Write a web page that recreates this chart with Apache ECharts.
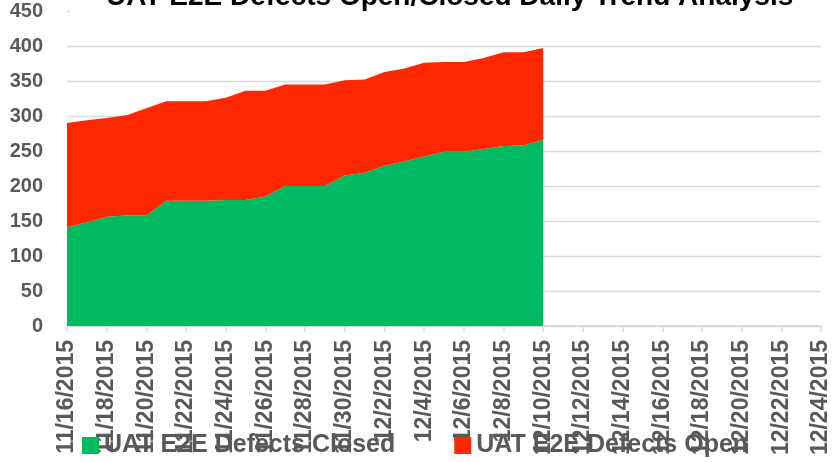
<!DOCTYPE html>
<html>
<head>
<meta charset="utf-8">
<title>UAT E2E Defects Open/Closed Daily Trend Analysis</title>
<script src="https://cdn.jsdelivr.net/npm/echarts@6/dist/echarts.min.js"></script>
<style>
    html, body {margin: 0; padding: 0; background: #fff;}
    #container {width: 835px; height: 462px;}
</style>
</head>
<body>
<div id="container"></div>
<script>
// x轴日期
var dates = ['11/16/2015', '11/17/2015', '11/18/2015', '11/19/2015', '11/20/2015', '11/21/2015',
    '11/22/2015', '11/23/2015', '11/24/2015', '11/25/2015', '11/26/2015', '11/27/2015',
    '11/28/2015', '11/29/2015', '11/30/2015', '12/1/2015', '12/2/2015', '12/3/2015',
    '12/4/2015', '12/5/2015', '12/6/2015', '12/7/2015', '12/8/2015', '12/9/2015',
    '12/10/2015', '12/11/2015', '12/12/2015', '12/13/2015', '12/14/2015', '12/15/2015',
    '12/16/2015', '12/17/2015', '12/18/2015', '12/19/2015', '12/20/2015', '12/21/2015',
    '12/22/2015', '12/23/2015', '12/24/2015'];

// 已关闭
var closedData = [141, 148, 156, 158, 158, 179, 179, 179, 180, 180, 185, 200, 200,
    200, 215, 219, 229, 235, 242, 249, 249, 253, 257, 258, 266];

// 未关闭
var openData = [149, 146, 141, 143, 153, 142, 142, 142, 146, 156, 151, 145, 145,
    145, 136, 133, 134, 133, 134, 128, 128, 130, 134, 133, 131];

var seriesNames = ['UAT E2E Defects Closed', 'UAT E2E Defects Open'];

var font = 'Liberation Sans';
var gray = '#595959';

var dom = document.getElementById("container");
var myChart = echarts.init(dom);

var option;

option = {
    animation: false,
    title: {
        text: 'UAT E2E Defects Open/Closed Daily Trend Analysis',
        left: 70,
        top: -17,
        padding: [0, 40, 2, 36],
        backgroundColor: '#fff',
        textStyle: {
            fontFamily: font,
            fontSize: 28,
            fontWeight: 'bold',
            color: '#000',
            lineHeight: 28
        }
    },
    legend: {
        left: 82,
        top: 433,
        padding: 0,
        itemWidth: 17,
        itemHeight: 17,
        itemGap: 59,
        icon: 'rect',
        data: seriesNames,
        textStyle: {
            fontFamily: font,
            fontSize: 25,
            fontWeight: 'bold',
            color: gray
        }
    },
    grid: {
        left: 67,
        right: 14,
        top: 11,
        bottom: 136,
        containLabel: false
    },
    xAxis: {
        type: 'category',
        boundaryGap: false,
        data: dates,
        axisLine: {
            lineStyle: {color: '#d9d9d9', width: 1.5}
        },
        axisTick: {
            interval: 1,
            length: 6,
            lineStyle: {color: '#d9d9d9', width: 1.5}
        },
        axisLabel: {
            interval: 1,
            rotate: 90,
            margin: 14,
            fontFamily: font,
            fontSize: 23,
            fontWeight: 'bold',
            color: gray
        }
    },
    yAxis: {
        type: 'value',
        min: 0,
        max: 450,
        interval: 50,
        axisLine: {show: false},
        axisTick: {show: false},
        splitLine: {
            lineStyle: {color: '#d9d9d9', width: 1.3}
        },
        axisLabel: {
            margin: 24,
            fontFamily: font,
            fontSize: 20,
            fontWeight: 'bold',
            color: gray
        }
    },
    series: [
        {
            name: seriesNames[0],
            type: 'line',
            stack: 'total',
            data: closedData,
            symbol: 'none',
            lineStyle: {width: 0},
            itemStyle: {color: '#00B960'},
            areaStyle: {color: '#00B960', opacity: 1}
        },
        {
            name: seriesNames[1],
            type: 'line',
            stack: 'total',
            data: openData,
            symbol: 'none',
            lineStyle: {width: 0},
            itemStyle: {color: '#FF2700'},
            areaStyle: {color: '#FF2700', opacity: 1}
        }
    ]
};

if (option && typeof option === 'object') {
    myChart.setOption(option);
}
</script>
</body>
</html>
